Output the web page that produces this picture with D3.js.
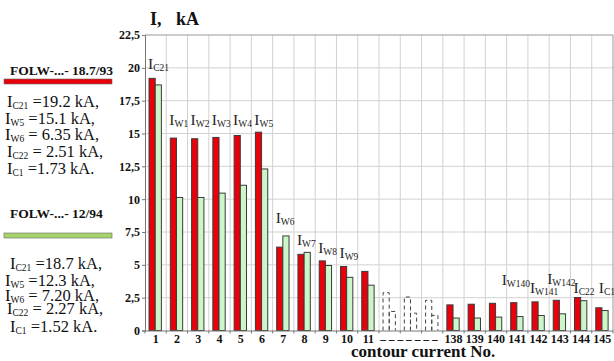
<!DOCTYPE html>
<html><head><meta charset="utf-8">
<script src="https://cdn.jsdelivr.net/npm/d3@7"></script>
<style>
html,body{margin:0;padding:0;background:#fff;}
svg{display:block;}
svg text{font-family:"Liberation Serif","Times New Roman",serif;}
</style></head>
<body>
<svg id="c" width="614" height="361"></svg>
<script>
// ---- data ----
const categories = ["1","2","3","4","5","6","7","8","9","10","11","d1","d2","d3","138","139","140","141","142","143","144","145"];
const tickLabels = ["1","2","3","4","5","6","7","8","9","10","11","","","","138","139","140","141","142","143","144","145"];
const series93 = [19.2,14.65,14.6,14.7,14.85,15.1,6.35,5.8,5.3,4.87,4.5,null,null,null,1.95,2.0,2.07,2.12,2.18,2.3,2.51,1.73];
const series94 = [18.7,10.13,10.13,10.46,11.06,12.3,7.2,5.95,4.95,4.05,3.45,null,null,null,0.95,0.95,1.02,1.06,1.14,1.27,2.27,1.52];
const dashedCats = ["d1","d2","d3"];
const dashed93 = [2.88,2.55,2.3];
const dashed94 = [1.45,1.32,1.15];
const yTicks = [0,2.5,5,7.5,10,12.5,15,17.5,20,22.5];
const annSubs = ["C21","W1","W2","W3","W4","W5","W6","W7","W8","W9","W140","W141","W142","C22","C1"];
const annCats = ["1","2","3","4","5","6","7","8","9","10","141","142","143","144","145"];
const annLevels = [19.9,15.65,15.65,15.65,15.65,15.65,8.19,6.5,5.9,5.52,3.47,2.86,3.54,2.86,2.86];
const legend93Title = "FOLW-...- 18.7/93";
const legend94Title = "FOLW-...- 12/94";
const legend93Subs = ["C21","W5","W6","C22","C1"];
const legend93Vals = [" =19.2 kA,"," =15.1 kA,"," = 6.35 kA,"," = 2.51 kA,"," =1.73 kA."];
const legend94Subs = ["C21","W5","W6","C22","C1"];
const legend94Vals = [" =18.7 kA,"," =12.3 kA,"," = 7.20 kA,"," = 2.27 kA,"," =1.52 kA."];

// ---- layout ----
const SERIF = '"Liberation Serif","Times New Roman",serif';
const RED="#e8000b", GREEN="#cdf6c8", OUT="#3a3a3a";
const svg = d3.select("#c");
const x = d3.scaleBand().domain(categories).range([145,613]).padding(0);
const y = d3.scaleLinear().domain([0,22.5]).range([330.5,35]);
const bw = x.bandwidth();
const sub = d3.scaleBand().domain(["a","b"]).range([bw*0.19,bw*0.77]).padding(0);

// grid
svg.append("g").selectAll("line").data(yTicks.slice(1,-1)).join("line")
  .attr("x1",145).attr("x2",613).attr("y1",d=>y(d)).attr("y2",d=>y(d))
  .attr("stroke","#d2d2d2").attr("stroke-width",1);
svg.append("g").selectAll("line").data(categories.slice(1)).join("line")
  .attr("x1",d=>x(d)).attr("x2",d=>x(d)).attr("y1",y(22.5)).attr("y2",y(0))
  .attr("stroke","#d2d2d2").attr("stroke-width",1);
svg.append("line").attr("x1",145).attr("x2",613).attr("y1",y(22.5)).attr("y2",y(22.5)).attr("stroke","#999");
svg.append("line").attr("x1",613).attr("x2",613).attr("y1",y(22.5)).attr("y2",y(0)).attr("stroke","#999");

// bars
const rows = categories.map((c,i)=>({c,a:series93[i],b:series94[i]})).filter(d=>d.a!=null);
const g = svg.append("g");
g.selectAll("rect.a").data(rows).join("rect").attr("class","a")
  .attr("x",d=>x(d.c)+sub("a")).attr("width",sub.bandwidth())
  .attr("y",d=>y(d.a)).attr("height",d=>y(0)-y(d.a))
  .attr("fill",RED).attr("stroke",OUT).attr("stroke-width",1);
g.selectAll("rect.b").data(rows).join("rect").attr("class","b")
  .attr("x",d=>x(d.c)+sub("b")).attr("width",sub.bandwidth())
  .attr("y",d=>y(d.b)).attr("height",d=>y(0)-y(d.b))
  .attr("fill",GREEN).attr("stroke",OUT).attr("stroke-width",1);
// dashed placeholders
const drows = dashedCats.map((c,i)=>({c,a:dashed93[i],b:dashed94[i]}));
["a","b"].forEach(k=>{
  g.selectAll("path.d"+k).data(drows).join("path").attr("class","d"+k)
    .attr("d",d=>{const x0=x(d.c)+sub(k), x1=x0+sub.bandwidth(), yt=y(d[k]), yb=y(0);
      return `M${x0},${yb}V${yt}H${x1}V${yb}`;})
    .attr("fill","none").attr("stroke","#444").attr("stroke-width",1).attr("stroke-dasharray","4,3");
});

// axes
const xAxis = d3.axisBottom(x).tickSize(0).tickFormat((d,i)=>tickLabels[i]);
const xg = svg.append("g").attr("transform",`translate(0,${y(0)})`).call(xAxis);
xg.attr("font-family",null);
xg.select(".domain").attr("stroke","#777");
xg.selectAll("text").style("font-family",SERIF).attr("font-weight","bold")
  .attr("font-size",12).attr("fill","#111").attr("dy",0).attr("y",12.5);
svg.append("g").selectAll("line").data(categories.concat(["end"])).join("line")
  .attr("x1",(d,i)=>145+i*bw).attr("x2",(d,i)=>145+i*bw)
  .attr("y1",y(0)).attr("y2",y(0)+3).attr("stroke","#777");
svg.append("text").attr("x",(x("d1")+x("d3")+bw)/2 - 2).attr("y",y(0)+12)
  .attr("text-anchor","middle").attr("font-weight","bold").attr("font-size",11.5)
  .attr("fill","#111").text("– – – – – – –");

const yAxis = d3.axisLeft(y).tickValues(yTicks).tickSize(3).tickFormat(d=>String(d).replace(".",","));
const yg = svg.append("g").attr("transform","translate(145,0)").call(yAxis);
yg.attr("font-family",null);
yg.select(".domain").attr("stroke","#777");
yg.selectAll(".tick line").attr("stroke","#777");
yg.selectAll("text").style("font-family",SERIF).attr("font-weight","bold")
  .attr("font-size",12).attr("fill","#111").attr("x",-5);

// titles
svg.append("text").attr("x",150).attr("y",25).attr("font-weight","bold").attr("font-size",18).attr("fill","#111").text("I,");
svg.append("text").attr("x",176).attr("y",25).attr("font-weight","bold").attr("font-size",18).attr("fill","#111").text("kA");
svg.append("text").attr("x",351).attr("y",357).attr("font-weight","bold").attr("font-size",17).attr("fill","#111").text("contour current No.");

// annotations
const annNudge = {"W140":-8,"W141":-1,"W142":-5,"C22":0,"C1":4};
const ag = svg.append("g");
annSubs.forEach((s,i)=>{
  const t = ag.append("text").attr("x",x(annCats[i])+3+(annNudge[s]||0)).attr("y",y(annLevels[i]))
    .attr("font-size",15.5).attr("fill","#222");
  t.append("tspan").text("I");
  t.append("tspan").attr("font-size",9.5).attr("dy",2).text(s);
});

// legends
function legend(title, yTitle, color, yBar, subs, vals, ys, xs){
  svg.append("text").attr("x",10).attr("y",yTitle).attr("font-weight","bold").attr("font-size",13.5).attr("fill","#111").text(title);
  svg.append("rect").attr("x",4).attr("y",yBar).attr("width",108).attr("height",5).attr("fill",color).attr("stroke","#666").attr("stroke-width",0.6);
  subs.forEach((s,i)=>{
    const t = svg.append("text").attr("x",xs[i]).attr("y",ys[i]).attr("font-size",16.5).attr("fill","#111");
    t.append("tspan").text("I");
    t.append("tspan").attr("font-size",9.5).attr("dy",2).text(s);
    t.append("tspan").attr("dy",-2).text(vals[i]);
  });
}
legend(legend93Title,75,RED,79,legend93Subs,legend93Vals,[106.7,124,140,157,174],[7,5,5,7,7]);
legend(legend94Title,218,"#a6d46a",233,legend94Subs,legend94Vals,[269,286,301,314,332],[10,5,5,7,10]);
</script>
</body></html>
